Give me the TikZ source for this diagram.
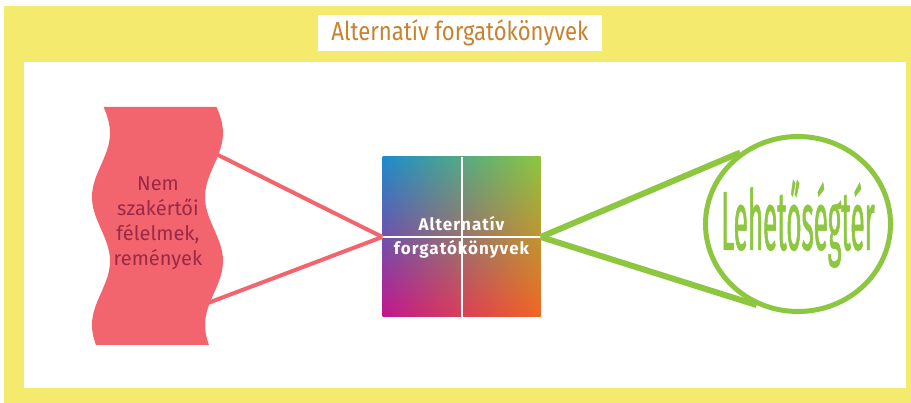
\documentclass[tikz,border=0pt]{standalone}
\usepackage{fontspec}
\setmainfont{Fira Sans}
\newfontfamily\condfont[FakeStretch=0.85]{Fira Sans}
\newfontfamily\tallfont[FakeStretch=0.31,FakeBold=0.6]{Fira Sans}
\usetikzlibrary{calc,shapes.geometric,shadings}

\definecolor{frameyellow}{HTML}{F4EB6E}
\definecolor{titleorange}{HTML}{C8812E}
\definecolor{fearred}{HTML}{F2646E}
\definecolor{feartext}{HTML}{9B2946}
\definecolor{spacegreen}{HTML}{8DC63F}
\definecolor{gblue}{HTML}{1C8CCB}
\definecolor{ggreen}{HTML}{8DC63F}
\definecolor{gmagenta}{HTML}{C4168C}
\definecolor{gorange}{HTML}{F26522}

\begin{document}
\begin{tikzpicture}[x=1pt,y=-1pt,
  titlebox/.style={fill=white,minimum width=284pt,minimum height=36pt,inner sep=0pt,text=titleorange,font=\condfont\fontsize{26}{26}\selectfont},
  square/.style={minimum width=158pt,minimum height=160pt,inner sep=0pt,upper left=gblue,upper right=ggreen,lower left=gmagenta,lower right=gorange,text=white,align=center,font=\bfseries\fontsize{17}{24}\selectfont\addfontfeature{LetterSpace=6}},
  cross/.style={white,line width=2pt},
  ring/.style={ellipse,draw=spacegreen,line width=5pt,minimum width=185pt,minimum height=175pt,inner sep=0pt},
  fearlink/.style={fearred,line width=4pt},
  spacelink/.style={spacegreen,line width=6pt}]
  \useasboundingbox (0,0) rectangle (911,403);
  \fill[frameyellow] (4,6) rectangle (911,403);
  \fill[white] (24,62) rectangle (906,388);

  \node[titlebox] (title) at (460,33) {Alternatív forgatókönyvek};

  \node[square,shade] (scenarios) at (461.5,237) {Alternatív\\forgatókönyvek};
  \draw[cross] (scenarios.north) -- (scenarios.south);
  \draw[cross] (scenarios.west) -- (scenarios.east);

  \node[ring] (space) at (798,224) {};
  \node[text=spacegreen,inner sep=0pt,font=\tallfont\fontsize{84}{84}\selectfont] (space text) at (space.center) {Lehetőségtér};

  \coordinate (fears top) at (212,152);
  \coordinate (fears bottom) at (200,306);
  \draw[fearlink] (fears top) -- (scenarios.west);
  \draw[fearlink] (fears bottom) -- (scenarios.west);

  \draw[spacelink] (scenarios.east) -- (space.129);
  \draw[spacelink] (scenarios.east) -- (space.243);

  \fill[fearred] plot[domain=107:345,samples=60] ({101+9*sin(2.8125*(\x-101))},\x)
    -- plot[domain=345:107,samples=60] ({214+9*sin(2.8125*(\x-101))},\x) -- cycle;
  \node[text=feartext,align=center,font=\fontsize{20}{25}\selectfont] (fears) at (158,223) {Nem\\szakértői\\félelmek,\\remények};
\end{tikzpicture}
\end{document}
